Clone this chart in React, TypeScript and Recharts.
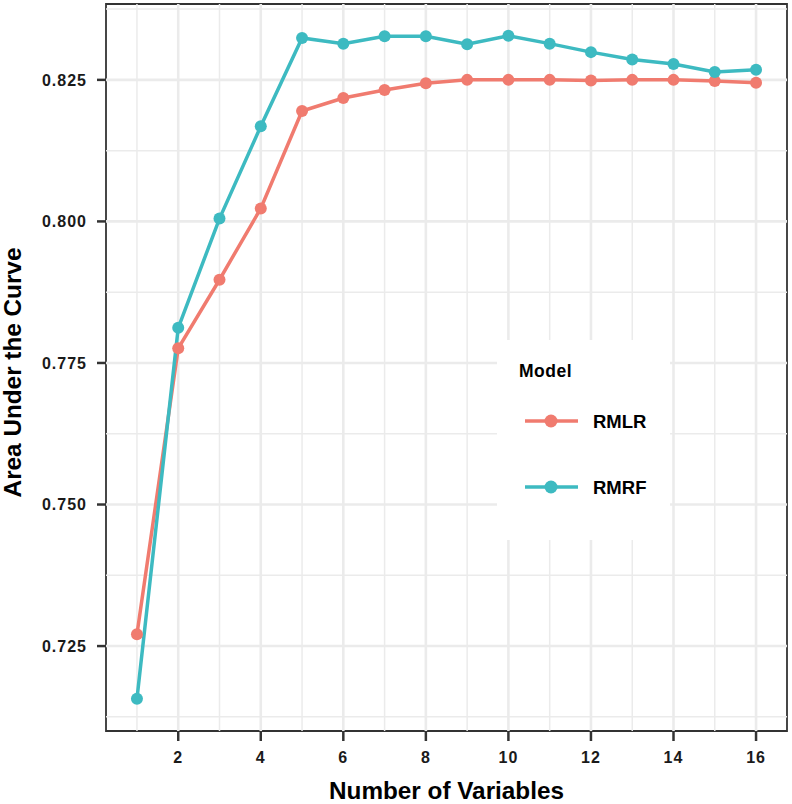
import { LineChart, Line, XAxis, YAxis, ReferenceLine, ReferenceArea, Legend } from 'recharts';

const nVars = [1, 2, 3, 4, 5, 6, 7, 8, 9, 10, 11, 12, 13, 14, 15, 16];
const rmlr = [0.7271, 0.7776, 0.7897, 0.8023, 0.8195, 0.8218, 0.8232, 0.8244, 0.825, 0.825, 0.825, 0.8249, 0.825, 0.825, 0.8248, 0.8245];
const rmrf = [0.7157, 0.7812, 0.8005, 0.8168, 0.8324, 0.8314, 0.8327, 0.8327, 0.8313, 0.8328, 0.8314, 0.8299, 0.8286, 0.8278, 0.8264, 0.8268];

const xTicks = [2, 4, 6, 8, 10, 12, 14, 16];
const xMinor = [1, 3, 5, 7, 9, 11, 13, 15];
const yTicks = [0.725, 0.75, 0.775, 0.8, 0.825];
const yMinor = [0.7125, 0.7375, 0.7625, 0.7875, 0.8125, 0.8375];

const X_DOMAIN = [0.25, 16.75];
const Y_DOMAIN = [0.71, 0.8384];

const RED = '#F07B6F';
const TEAL = '#3DBAC1';
const GRID = '#EBEBEB';
const DARK = '#333333';
const FONT = '"Liberation Sans", Arial, sans-serif';

const data = nVars.map((n, i) => ({ n, rmlr: rmlr[i], rmrf: rmrf[i] }));

const tickStyle = { fontSize: 16, fontWeight: 700, fill: '#1a1a1a', fontFamily: FONT, letterSpacing: 1 };

function LegendBox({ payload }: any) {
  const items = (payload || []).filter((p: any) => p.value);
  return (
    <svg width={173} height={200} style={{ display: 'block', background: '#fff' }}>
      <text x={22} y={37} fontSize={17.5} fontWeight={700} fontFamily={FONT} fill="#000" letterSpacing={0.5}>
        Model
      </text>
      {items.map((p: any, i: number) => {
        const cy = 81 + i * 66;
        return (
          <g key={p.value}>
            <line x1={28} x2={81} y1={cy} y2={cy} stroke={p.color} strokeWidth={3.5} />
            <circle cx={54} cy={cy} r={6.5} fill={p.color} />
            <text x={96} y={cy + 6.5} fontSize={18.5} fontWeight={700} fontFamily={FONT} fill="#000">
              {p.value}
            </text>
          </g>
        );
      })}
    </svg>
  );
}

export default function App() {
  return (
    <div style={{ position: 'absolute', left: 0, top: 0, width: 792, height: 804, background: '#fff' }}>
      <LineChart width={792} height={804} data={data} margin={{ top: 4, right: 5, left: 0, bottom: 0 }}>
        {xMinor.map(v => (
          <ReferenceLine key={'xm' + v} x={v} stroke={GRID} strokeWidth={1.5} />
        ))}
        {yMinor.map(v => (
          <ReferenceLine key={'ym' + v} y={v} stroke={GRID} strokeWidth={1.5} />
        ))}
        {xTicks.map(v => (
          <ReferenceLine key={'xM' + v} x={v} stroke={GRID} strokeWidth={2.6} />
        ))}
        {yTicks.map(v => (
          <ReferenceLine key={'yM' + v} y={v} stroke={GRID} strokeWidth={2.6} />
        ))}
        <XAxis
          type="number"
          dataKey="n"
          domain={X_DOMAIN}
          ticks={xTicks}
          allowDataOverflow
          height={73}
          axisLine={false}
          tickSize={10}
          tickMargin={11}
          tickLine={{ stroke: DARK, strokeWidth: 2.5 }}
          tick={tickStyle}
          label={{
            content: ({ viewBox }: any) => (
              <text
                x={viewBox.x + viewBox.width / 2}
                y={viewBox.y + 68}
                textAnchor="middle"
                fontSize={24.3}
                fontWeight={700}
                fontFamily={FONT}
                fill="#000"
              >
                Number of Variables
              </text>
            ),
          }}
        />
        <YAxis
          type="number"
          domain={Y_DOMAIN}
          ticks={yTicks}
          allowDataOverflow
          width={106}
          axisLine={false}
          tickSize={9}
          tickMargin={10}
          tickLine={{ stroke: DARK, strokeWidth: 2.5 }}
          tick={tickStyle}
          tickFormatter={(v: number) => v.toFixed(3)}
          label={{
            content: ({ viewBox }: any) => {
              const cy = viewBox.y + viewBox.height / 2 + 5;
              return (
                <text
                  x={21}
                  y={cy}
                  transform={`rotate(-90, 21, ${cy})`}
                  textAnchor="middle"
                  fontSize={24.3}
                  fontWeight={700}
                  fontFamily={FONT}
                  fill="#000"
                >
                  Area Under the Curve
                </text>
              );
            },
          }}
        />
        <ReferenceArea
          x1={X_DOMAIN[0]}
          x2={X_DOMAIN[1]}
          y1={Y_DOMAIN[0]}
          y2={Y_DOMAIN[1]}
          fill="none"
          fillOpacity={0}
          stroke={DARK}
          strokeWidth={1.8}
          strokeOpacity={1}
        />
        <Legend
          layout="vertical"
          align="center"
          verticalAlign="middle"
          content={LegendBox}
          wrapperStyle={{ position: 'absolute', left: 497, top: 340, width: 173, height: 200 }}
        />
        <Line
          type="linear"
          dataKey="rmlr"
          name="RMLR"
          stroke={RED}
          strokeWidth={3.5}
          dot={{ r: 6, fill: RED, stroke: RED, strokeWidth: 0 }}
          activeDot={false}
          isAnimationActive={false}
        />
        <Line
          type="linear"
          dataKey="rmrf"
          name="RMRF"
          stroke={TEAL}
          strokeWidth={3.5}
          dot={{ r: 6, fill: TEAL, stroke: TEAL, strokeWidth: 0 }}
          activeDot={false}
          isAnimationActive={false}
        />
      </LineChart>
    </div>
  );
}
